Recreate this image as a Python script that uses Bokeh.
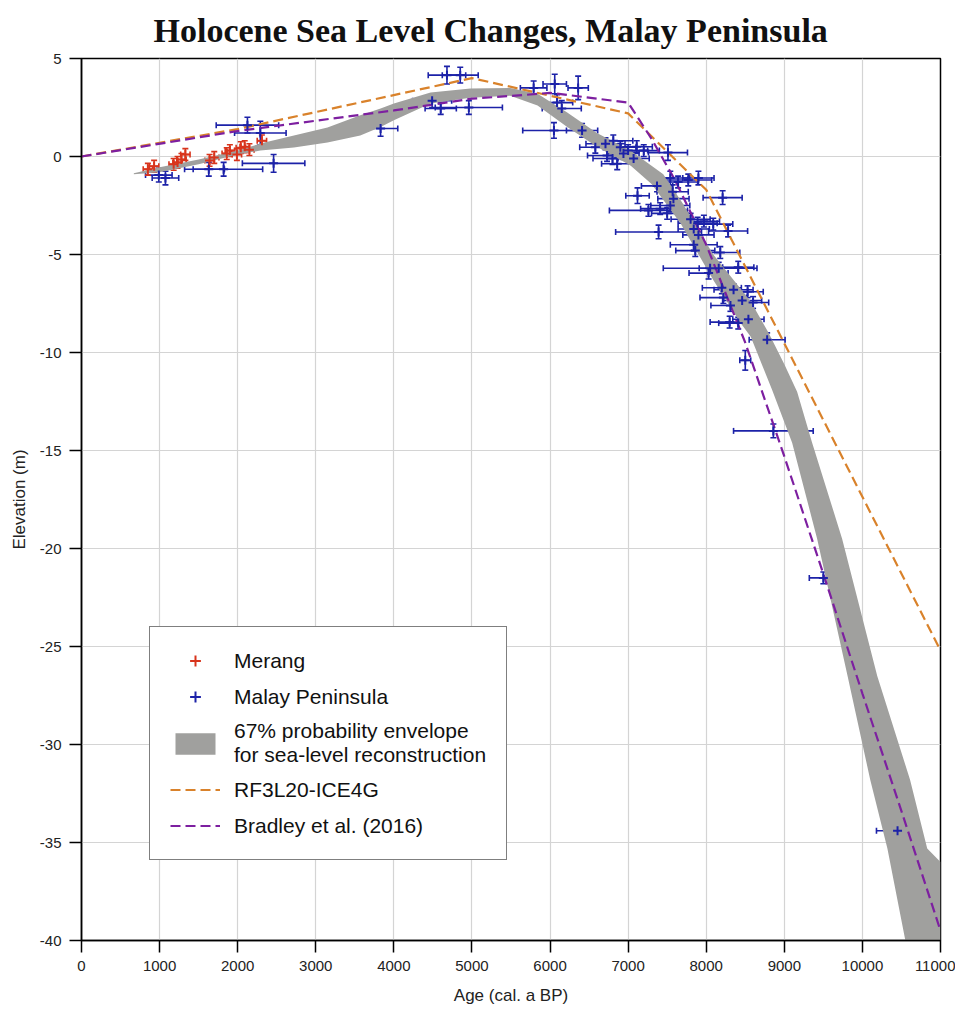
from bokeh.plotting import figure
from bokeh.models import (ColumnDataSource, Whisker, TeeHead, Legend, LegendItem,
                          Range1d, FixedTicker)
from bokeh.embed import file_html
from bokeh.resources import INLINE

# ---------------- data ----------------
TITLE = "Holocene Sea Level Changes, Malay Peninsula"

merang_age = [850, 930, 1180, 1230, 1280, 1330, 1640, 1700, 1860, 1900, 1990, 2040, 2090, 2150, 2310]
merang_elev = [-0.65, -0.5, -0.4, -0.3, -0.15, 0.1, -0.2, -0.05, 0.15, 0.3, 0.1, 0.45, 0.5, 0.35, 0.8]
merang_age_err = [60, 60, 60, 60, 60, 60, 60, 60, 60, 60, 60, 60, 60, 60, 60]
merang_elev_err = [0.3, 0.3, 0.3, 0.3, 0.3, 0.3, 0.3, 0.3, 0.3, 0.3, 0.3, 0.3, 0.3, 0.3, 0.3]

malay_age = [990, 1075, 1630, 1820, 2460, 2125, 2290, 3830,
             4680, 4850, 4490, 4600, 4960, 5790, 6060, 6360, 6090, 6150, 6050, 6410,
             6580, 6710, 6810, 6900, 7000, 7110, 6800, 6860, 7070, 7200, 6730, 6940, 7510,
             7120, 7370, 7540, 7640, 7770, 7900, 7570, 7580, 7540, 7260, 7410, 7500, 8210,
             7800, 7890, 7970, 8090, 7390, 7840, 7900, 8280, 7840, 7860, 8180, 8050, 8160,
             8410, 8030, 8200, 8350, 8530, 8220, 8460, 8600, 8310, 8410, 8540, 8300,
             8780, 8500, 8860, 9500, 10450]
malay_elev = [-0.95, -1.1, -0.65, -0.65, -0.35, 1.6, 1.2, 1.43,
              4.15, 4.15, 2.85, 2.45, 2.5, 3.5, 3.7, 3.5, 2.75, 2.45, 1.33, 1.33,
              0.47, 0.65, 0.8, 0.47, 0.3, 0.5, -0.1, -0.37, -0.1, 0.3, 0.05, 0.15, 0.2,
              -2.0, -1.5, -1.1, -1.3, -1.2, -1.1, -1.8, -2.15, -2.5, -2.75, -2.66, -2.9, -2.1,
              -3.2, -3.4, -3.3, -3.45, -3.85, -3.7, -4.0, -3.8, -4.5, -4.8, -4.9, -5.7, -5.7,
              -5.65, -5.95, -6.7, -6.8, -6.9, -7.2, -7.35, -7.45, -7.6, -8.5, -8.3, -8.45,
              -9.35, -10.4, -14.0, -21.5, -34.4]
malay_age_err = [170, 170, 200, 500, 400, 400, 330, 220,
                 240, 230, 250, 200, 430, 170, 150, 130, 200, 250, 400, 200,
                 200, 250, 250, 200, 250, 200, 250, 200, 200, 200, 250, 200, 250,
                 150, 200, 250, 250, 300, 200, 200, 200, 250, 500, 250, 200, 250,
                 250, 250, 200, 250, 550, 200, 200, 250, 300, 250, 250, 600, 250,
                 200, 250, 250, 250, 200, 300, 250, 200, 250, 250, 200, 250,
                 230, 70, 510, 180, 270]
malay_elev_err = [0.35, 0.35, 0.35, 0.35, 0.45, 0.4, 0.6, 0.4,
                  0.45, 0.4, 0.35, 0.3, 0.35, 0.35, 0.5, 0.6, 0.4, 0.4, 0.4, 0.35,
                  0.3, 0.3, 0.3, 0.3, 0.3, 0.3, 0.3, 0.3, 0.3, 0.3, 0.3, 0.3, 0.4,
                  0.4, 0.3, 0.35, 0.3, 0.3, 0.35, 0.35, 0.3, 0.3, 0.3, 0.3, 0.3, 0.35,
                  0.3, 0.3, 0.3, 0.3, 0.35, 0.3, 0.3, 0.3, 0.3, 0.3, 0.3, 0.3, 0.3,
                  0.3, 0.3, 0.3, 0.3, 0.3, 0.3, 0.3, 0.3, 0.3, 0.3, 0.3, 0.3,
                  0.35, 0.5, 0.35, 0.3, 0.35]

env_top_age = [670, 1000, 1500, 2000, 2290, 2720, 3150, 3570, 3830, 4000, 4470, 4980, 5490,
               5840, 6220, 6600, 7030, 7450, 7700, 8090, 8570, 8800, 9000, 9164, 9356,
               9740, 10190, 10610, 10830, 11000]
env_top_elev = [-0.85, -0.55, -0.15, 0.3, 0.66, 1.07, 1.48, 2.1, 2.45, 2.7, 3.27, 3.47, 3.5,
                3.2, 2.25, 1.2, 0.3, -0.9, -2.4, -5.0, -7.4, -9.0, -10.6, -12.0, -14.6,
                -19.5, -26.5, -31.8, -35.3, -36.0]
env_bot_age = [670, 1000, 1500, 2000, 2290, 2720, 3150, 3570, 3830, 4000, 4470, 4980, 5490,
               5840, 6220, 6600, 7030, 7300, 7670, 8090, 8440, 8570, 8843, 9100,
               9420, 9810, 10100, 10320, 10550, 11000]
env_bot_elev = [-0.9, -0.8, -0.4, 0.1, 0.3, 0.46, 0.71, 1.07, 1.5, 1.85, 2.7, 3.0, 3.1,
                2.6, 1.5, 0.5, -0.46, -1.4, -3.4, -6.3, -8.5, -9.2, -11.9, -14.6,
                -19.5, -26.5, -31.8, -35.3, -40.0, -40.0]

rf3_age = [0, 2000, 5000, 7000, 8000, 11000]
rf3_elev = [0, 1.4, 4.0, 2.2, -1.7, -25.2]

bradley_age = [0, 2000, 4000, 5000, 5700, 6000, 7000, 7300, 7600, 8000, 8500, 9000, 9500,
               10000, 10500, 11000]
bradley_elev = [0, 1.3, 2.35, 2.95, 3.15, 3.25, 2.75, 0.9, -1.2, -4.5, -9.5, -15.3, -21.3,
                -27.4, -33.4, -39.5]

x_ticks = [0, 1000, 2000, 3000, 4000, 5000, 6000, 7000, 8000, 9000, 10000, 11000]
y_ticks = [5, 0, -5, -10, -15, -20, -25, -30, -35, -40]

RED = "#d8341c"
BLUE = "#1c22a8"

# ---------------- figure ----------------
FONT = "Liberation Sans"
p = figure(frame_width=859, frame_height=882,
           x_range=Range1d(0, 11000), y_range=Range1d(-40, 5),
           output_backend="svg", toolbar_location=None,
           min_border_left=81, min_border_right=15, min_border_top=58, min_border_bottom=70,
           background_fill_color="white", border_fill_color="white")

p.title.text = TITLE
p.title.text_font = "Liberation Serif"
p.title.text_font_size = "34px"
p.title.text_font_style = "bold"
p.title.align = "left"
p.title.offset = 72
p.title.vertical_align = "top"
p.title.text_line_height = 0.75
p.title.standoff = 16
p.title.text_color = "#111111"

p.outline_line_color = "black"
p.outline_line_width = 1.5

for ax in (p.xaxis[0], p.yaxis[0]):
    ax.axis_line_color = "black"
    ax.axis_line_width = 1.5
    ax.major_tick_line_color = "black"
    ax.major_tick_line_width = 1.5
    ax.major_tick_out = 12
    ax.major_tick_in = 0
    ax.minor_tick_line_color = None
    ax.major_label_text_font = FONT
    ax.major_label_text_font_size = "15px"
    ax.major_label_text_color = "#222222"
    ax.major_label_standoff = 8
    ax.axis_label_text_font = FONT
    ax.axis_label_text_font_size = "17px"
    ax.axis_label_text_font_style = "normal"
    ax.axis_label_text_color = "#222222"

p.xaxis.ticker = FixedTicker(ticks=x_ticks)
p.yaxis.ticker = FixedTicker(ticks=y_ticks)
p.xaxis.major_label_overrides = {t: str(t) for t in x_ticks}
p.yaxis.major_label_overrides = {t: str(t) for t in y_ticks}
p.xaxis.axis_label = "Age (cal. a BP)"
p.yaxis.axis_label = "Elevation (m)"
p.xaxis.axis_label_standoff = 12
p.yaxis.axis_label_standoff = 8

p.xgrid.ticker = FixedTicker(ticks=x_ticks)
p.ygrid.ticker = FixedTicker(ticks=y_ticks)
p.grid.grid_line_color = "#d4d4d4"
p.grid.grid_line_width = 1.2

# envelope
env_x = env_top_age + env_bot_age[::-1]
env_y = env_top_elev + env_bot_elev[::-1]
env_r = p.patch(env_x, env_y, fill_color="#a0a09e", line_color=None)

# model lines
rf3_r = p.line(rf3_age, rf3_elev, line_color="#d9822b", line_width=2.2, line_dash="10 5")
brad_r = p.line(bradley_age, bradley_elev, line_color="#7d1fa0", line_width=2.2, line_dash="10 5")


def add_series(age, elev, aerr, eerr, color):
    src = ColumnDataSource(dict(
        age=age, elev=elev,
        age_lo=[a - e for a, e in zip(age, aerr)], age_hi=[a + e for a, e in zip(age, aerr)],
        elev_lo=[a - e for a, e in zip(elev, eerr)], elev_hi=[a + e for a, e in zip(elev, eerr)],
    ))
    for dim, base, lo, hi in (("width", "elev", "age_lo", "age_hi"),
                              ("height", "age", "elev_lo", "elev_hi")):
        w = Whisker(source=src, base=base, lower=lo, upper=hi, dimension=dim,
                    line_color=color, line_width=1.6,
                    upper_head=TeeHead(size=6, line_color=color, line_width=1.6),
                    lower_head=TeeHead(size=6, line_color=color, line_width=1.6))
        p.add_layout(w)
    return p.scatter("age", "elev", source=src, marker="cross", size=9,
                     line_color=color, line_width=2.0)


malay_r = add_series(malay_age, malay_elev, malay_age_err, malay_elev_err, BLUE)
merang_r = add_series(merang_age, merang_elev, merang_age_err, merang_elev_err, RED)

legend = Legend(items=[
    LegendItem(label="Merang", renderers=[merang_r]),
    LegendItem(label="Malay Peninsula", renderers=[malay_r]),
    LegendItem(label="67% probability envelope\nfor sea-level reconstruction", renderers=[env_r]),
    LegendItem(label="RF3L20-ICE4G", renderers=[rf3_r]),
    LegendItem(label="Bradley et al. (2016)", renderers=[brad_r]),
], location=(68, 80))
legend.label_text_font = FONT
legend.label_text_font_size = "21px"
legend.label_text_color = "#111111"
legend.glyph_width = 50
legend.glyph_height = 27
legend.label_standoff = 14
legend.spacing = 9
legend.padding = 20
legend.margin = 0
legend.border_line_color = "black"
legend.border_line_width = 1.5
legend.background_fill_color = "white"
legend.background_fill_alpha = 1.0
p.add_layout(legend)

open("out.html", "w").write(file_html(p, INLINE))
